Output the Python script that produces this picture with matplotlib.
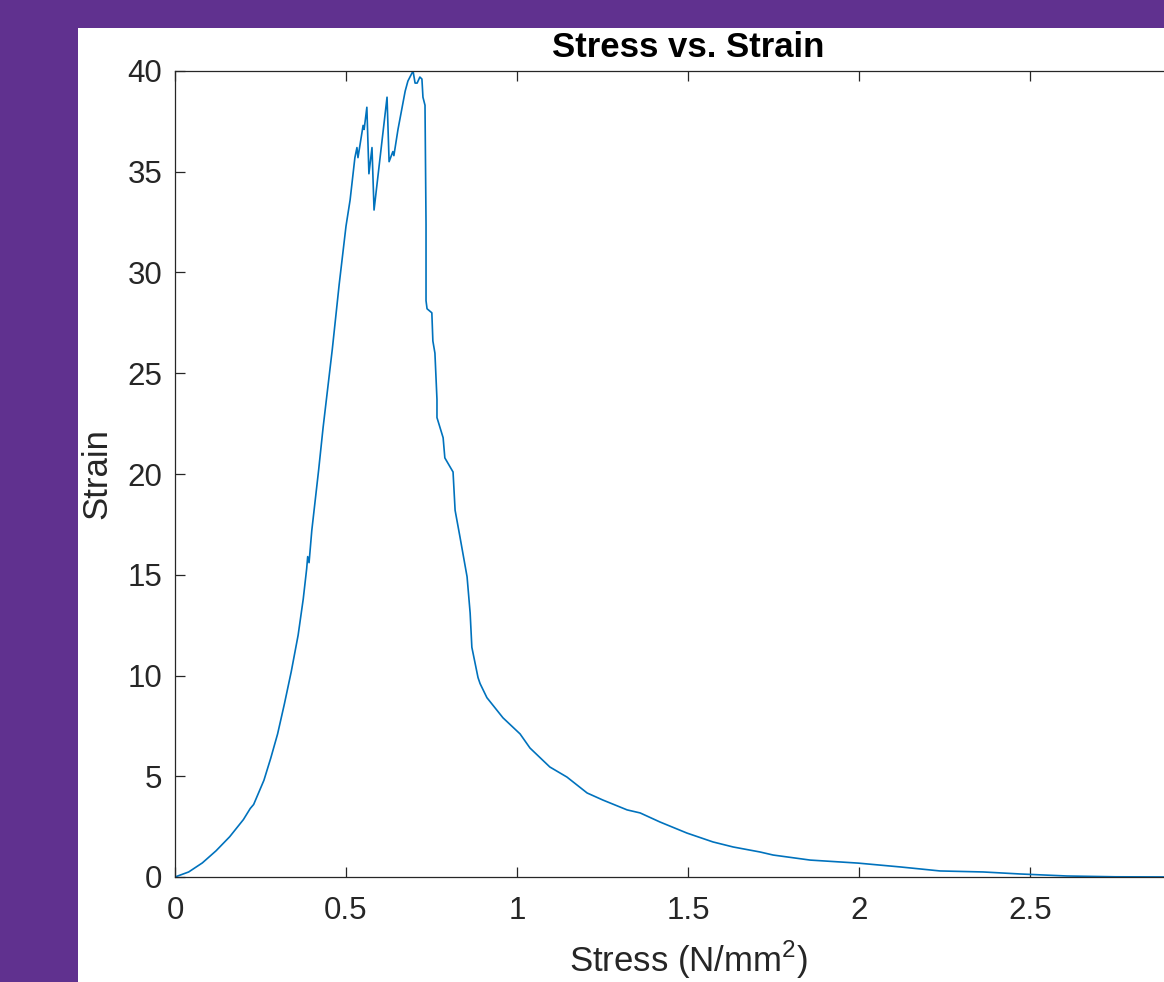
import matplotlib
matplotlib.use("Agg")
import matplotlib.pyplot as plt
from matplotlib.patches import Rectangle

stress = [0.0, 0.04, 0.08, 0.12, 0.16, 0.20, 0.22, 0.23, 0.26, 0.28, 0.30, 0.32,
          0.34, 0.36, 0.375, 0.385, 0.388, 0.392, 0.40, 0.42, 0.433, 0.46, 0.48,
          0.50, 0.512, 0.526, 0.532, 0.535, 0.550, 0.553, 0.561, 0.567, 0.576,
          0.582, 0.620, 0.626, 0.637, 0.640, 0.652, 0.673, 0.681, 0.696, 0.702,
          0.708, 0.716, 0.722, 0.725, 0.731, 0.734, 0.734, 0.737, 0.751, 0.754,
          0.760, 0.766, 0.766, 0.784, 0.789, 0.813, 0.819, 0.833, 0.854, 0.863,
          0.868, 0.886, 0.892, 0.912, 0.959, 1.009, 1.038, 1.096, 1.146, 1.205,
          1.251, 1.322, 1.360, 1.418, 1.497, 1.573, 1.632, 1.711, 1.749, 1.857,
          1.997, 2.120, 2.237, 2.363, 2.471, 2.608, 2.75, 2.95]
strain = [0.0, 0.25, 0.7, 1.3, 2.0, 2.85, 3.4, 3.6, 4.8, 5.9, 7.1, 8.6,
          10.2, 12.0, 13.8, 15.3, 15.9, 15.6, 17.2, 20.2, 22.3, 26.2, 29.4,
          32.3, 33.6, 35.7, 36.2, 35.7, 37.3, 37.1, 38.2, 34.9, 36.2,
          33.1, 38.7, 35.5, 36.0, 35.8, 37.1, 39.0, 39.5, 40.0, 39.4,
          39.4, 39.7, 39.6, 38.7, 38.3, 32.4, 28.6, 28.2, 28.0, 26.6,
          26.0, 23.7, 22.8, 21.8, 20.8, 20.1, 18.2, 16.9, 14.9, 13.1,
          11.4, 9.9, 9.6, 8.9, 7.9, 7.1, 6.4, 5.46, 4.96, 4.17,
          3.82, 3.33, 3.18, 2.73, 2.18, 1.74, 1.49, 1.24, 1.09, 0.84,
          0.69, 0.50, 0.30, 0.25, 0.15, 0.05, 0.01, 0.0]

xticks = [0, 0.5, 1, 1.5, 2, 2.5]
xticklabels = ["0", "0.5", "1", "1.5", "2", "2.5"]
yticks = [0, 5, 10, 15, 20, 25, 30, 35, 40]
yticklabels = ["0", "5", "10", "15", "20", "25", "30", "35", "40"]

plt.rcParams['font.family'] = ['Liberation Sans', 'DejaVu Sans']
plt.rcParams['mathtext.fontset'] = 'custom'
plt.rcParams['mathtext.rm'] = 'Liberation Sans'

W, H = 1164, 982
fig = plt.figure(figsize=(W / 100, H / 100), dpi=100, facecolor='#60318F')
fig.patches.append(Rectangle((78 / W, 0), 1 - 78 / W, 1 - 28 / H,
                             transform=fig.transFigure, facecolor='white',
                             edgecolor='none', zorder=-10))

ax_left, ax_right, ax_top, ax_bot = 175, 1201, 71, 877
ax = fig.add_axes([ax_left / W, 1 - ax_bot / H, (ax_right - ax_left) / W,
                   (ax_bot - ax_top) / H])
ax.set_facecolor('white')
ax.plot(stress, strain, color='#0072BD', lw=1.2)
ax.set_xlim(0, 3)
ax.set_ylim(0, 40)
ax.set_xticks(xticks)
ax.set_xticklabels(xticklabels)
ax.set_yticks(yticks)
ax.set_yticklabels(yticklabels)

dark = '#262626'
for s in ax.spines.values():
    s.set_color(dark)
    s.set_linewidth(0.9)
ax.tick_params(direction='in', length=7, width=0.9, colors=dark,
               labelsize=22.5, top=True, right=True)
ax.tick_params(axis='x', pad=14)
ax.tick_params(axis='y', pad=9)

ax.set_title('Stress vs. Strain', fontsize=25, fontweight='bold', color='black', pad=10)
ax.set_xlabel('Stress (N/mm$^2$)', fontsize=25, color=dark)
ax.set_ylabel('Strain', fontsize=25, color=dark)
ax.xaxis.set_label_coords((688 - ax_left) / (ax_right - ax_left), (877 - 939) / 806)
ax.yaxis.set_label_coords((113 - ax_left) / (ax_right - ax_left), 0.5)

fig.savefig('out.png', dpi=100, facecolor=fig.get_facecolor())
